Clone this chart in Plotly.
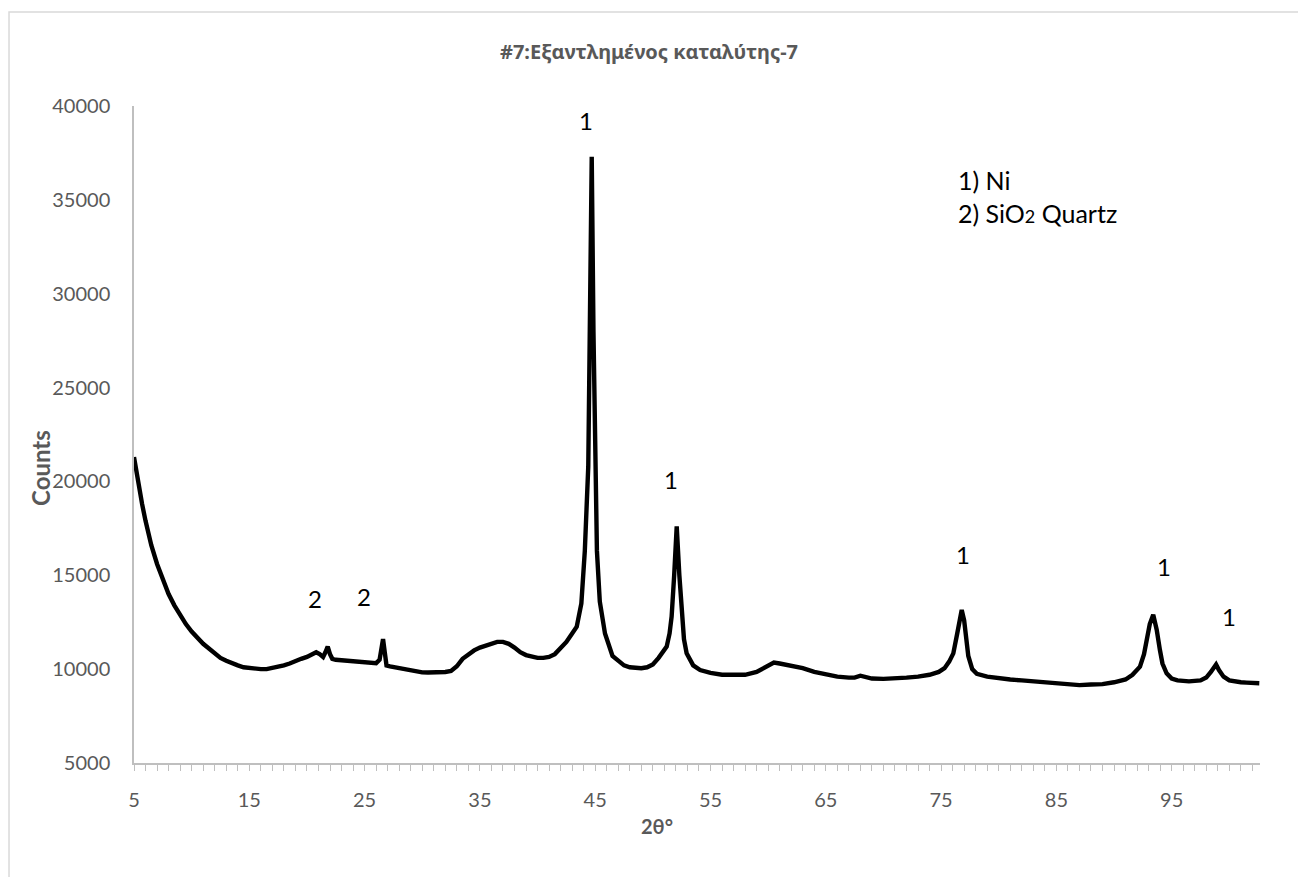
import plotly.graph_objects as go

# XRD pattern of the spent catalyst (2θ in degrees, intensity in counts)
two_theta = [
    5.0, 5.2, 5.4, 5.7, 6.0, 6.5, 7.0, 7.5, 8.0, 8.5, 9.0, 9.5, 10.0, 10.5, 11.0,
    11.5, 12.0, 12.5, 13.0, 13.5, 14.0, 14.5, 15.0, 15.5, 16.0, 16.5, 17.0, 17.5,
    18.0, 18.5, 19.0, 19.5, 20.0, 20.4, 20.8, 21.1, 21.4, 21.6, 21.8, 22.0, 22.2,
    22.5, 23.0, 23.5, 24.0, 24.5, 25.0, 25.5, 26.0, 26.3, 26.45, 26.6, 26.75, 26.9,
    27.2, 27.6, 28.0, 28.5, 29.0, 29.5, 30.0, 30.5, 31.0, 31.5, 32.0, 32.5, 33.0,
    33.5, 34.0, 34.5, 35.0, 35.5, 36.0, 36.5, 37.0, 37.5, 38.0, 38.5, 39.0, 39.5,
    40.0, 40.5, 41.0, 41.5, 42.0, 42.5, 43.0, 43.4, 43.8, 44.1, 44.4, 44.55, 44.7,
    44.85, 45.0, 45.15, 45.4, 45.85, 46.5, 47.5, 48.0, 48.5, 49.0, 49.5, 50.0, 50.5,
    50.9, 51.2, 51.45, 51.63, 51.85, 52.07, 52.3, 52.5, 52.7, 52.93, 53.5, 54.1,
    55.0, 56.0, 57.0, 58.0, 59.0, 60.0, 60.5, 61.0, 61.5, 62.0, 63.0, 64.0, 65.0,
    66.0, 67.0, 67.5, 68.0, 68.5, 69.0, 70.0, 71.0, 72.0, 73.0, 74.0, 74.8, 75.3,
    75.7, 76.06, 76.4, 76.6, 76.79, 77.0, 77.15, 77.36, 77.7, 78.1, 79.0, 80.0, 81.0,
    82.0, 83.0, 84.0, 85.0, 86.0, 87.0, 88.0, 89.0, 90.0, 91.0, 91.6, 92.25, 92.6,
    92.83, 93.1, 93.4, 93.7, 93.98, 94.2, 94.56, 95.0, 95.5, 96.5, 97.5, 98.0, 98.4,
    98.6, 98.85, 99.1, 99.5, 100.0, 100.5, 101.0, 101.5, 102.0, 102.6,
]
counts = [
    21300, 20500, 19700, 18800, 17900, 16600, 15600, 14800, 14000, 13400, 12850,
    12400, 12000, 11650, 11350, 11100, 10850, 10600, 10450, 10300, 10200, 10100,
    10050, 10000, 10000, 10000, 10050, 10100, 10200, 10300, 10450, 10550, 10650,
    10750, 10900, 10800, 10650, 10900, 11200, 10800, 10550, 10500, 10480, 10450,
    10420, 10400, 10380, 10350, 10320, 10500, 11000, 11600, 10900, 10200, 10150,
    10100, 10050, 9980, 9900, 9850, 9830, 9820, 9820, 9830, 9850, 9900, 10150,
    10550, 10800, 11000, 11150, 11250, 11350, 11450, 11450, 11350, 11150, 10900,
    10750, 10650, 10600, 10600, 10650, 10800, 11100, 11450, 11900, 12260, 13500,
    16300, 20800, 28000, 37300, 28000, 20800, 16300, 13600, 11900, 10700, 10200,
    10100, 10050, 10050, 10100, 10250, 10600, 11000, 11200, 11900, 12800, 15000,
    17600, 15000, 12800, 11600, 10850, 10200, 9950, 9800, 9700, 9680, 9700, 9850,
    10150, 10350, 10300, 10250, 10150, 10050, 9850, 9700, 9600, 9550, 9550, 9650,
    9550, 9500, 9480, 9500, 9550, 9600, 9700, 9850, 10050, 10400, 10840, 11900,
    12700, 13150, 12600, 11700, 10700, 10000, 9750, 9600, 9500, 9450, 9400, 9350,
    9300, 9250, 9200, 9150, 9180, 9200, 9300, 9450, 9700, 10130, 10800, 11550,
    12400, 12900, 12100, 11020, 10300, 9780, 9500, 9400, 9350, 9400, 9550, 9850,
    10050, 10250, 9950, 9600, 9400, 9330, 9300, 9280, 9270, 9250,
]

# Phase labels placed above the reflections
peak_label_x = [44.2, 51.6, 76.9, 94.3, 100.0, 20.7, 24.95]
peak_label_y = [39250, 20100, 16100, 15450, 12800, 13750, 13850]
peak_label_text = ["1", "1", "1", "1", "1", "2", "2"]

legend_lines = ["1) Ni", "2) SiO<span style=\"font-size:18px\">2</span> Quartz"]

title_text = "#7:Εξαντλημένος καταλύτης-7"
x_title = "2θ°"
y_title = "Counts"

FONT = "Lato, 'Noto Sans', sans-serif"
TITLE_FONT = "'Noto Sans', sans-serif"
GREY = "#595959"
AXIS_GREY = "#bfbfbf"

fig = go.Figure()
fig.add_trace(go.Scatter(
    x=two_theta, y=counts, mode="lines",
    line=dict(color="#000000", width=4.4),
    showlegend=False, hoverinfo="x+y",
))

for lx, ly, lt in zip(peak_label_x, peak_label_y, peak_label_text):
    fig.add_annotation(x=lx, y=ly, text=lt, showarrow=False,
                       font=dict(family=FONT, size=24, color="#000000"))

fig.add_annotation(x=0.7296, y=0.8615, xref="paper", yref="paper",
                   text="<br>".join(legend_lines), showarrow=False,
                   xanchor="left", yanchor="middle", align="left",
                   font=dict(family=FONT, size=25, color="#000000"))

# axis titles, centred on the chart area as in the original layout
fig.add_annotation(x=0.4645, y=-0.0959, xref="paper", yref="paper",
                   text=f"<b>{x_title}</b>", showarrow=False,
                   xanchor="center", yanchor="middle",
                   font=dict(family=FONT, size=20, color=GREY))
fig.add_annotation(x=-0.0835, y=0.449, xref="paper", yref="paper",
                   text=f"<b>{y_title}</b>", showarrow=False, textangle=-90,
                   xanchor="center", yanchor="middle",
                   font=dict(family=FONT, size=24, color=GREY))

# outer chart frame
fig.add_shape(type="rect", xref="paper", yref="paper",
              x0=-0.111, x1=1.06, y0=-0.3, y1=1.1431,
              line=dict(color="#d9d9d9", width=1.5), fillcolor="rgba(0,0,0,0)",
              layer="below")

fig.update_layout(
    width=1298, height=877,
    margin=dict(l=134, r=38, t=106, b=114),
    paper_bgcolor="white", plot_bgcolor="white",
    title=dict(text=f"<b>{title_text}</b>", x=0.5, xref="container", xanchor="center",
               y=1 - 52 / 877, yref="container", yanchor="middle",
               font=dict(family=TITLE_FONT, size=20, color=GREY)),
    font=dict(family=FONT, color=GREY),
)

fig.update_xaxes(
    range=[5, 102.66], tick0=5, dtick=10,
    showgrid=False, zeroline=False,
    showline=True, linecolor=AXIS_GREY, linewidth=1.5,
    ticks="outside", ticklen=6, tickcolor=AXIS_GREY, tickwidth=1,
    minor=dict(dtick=1, tick0=5, ticks="outside", ticklen=6,
               tickcolor=AXIS_GREY, tickwidth=1, showgrid=False),
    tickfont=dict(family=FONT, size=20, color=GREY),
    ticklabelstandoff=12,
)
fig.update_yaxes(
    range=[5000, 40000], dtick=5000, tickformat="d",
    showgrid=False, zeroline=False,
    showline=True, linecolor=AXIS_GREY, linewidth=1.5,
    ticks="", tickfont=dict(family=FONT, size=20, color=GREY),
    ticklabelstandoff=18,
)

fig.write_html("out.html")
